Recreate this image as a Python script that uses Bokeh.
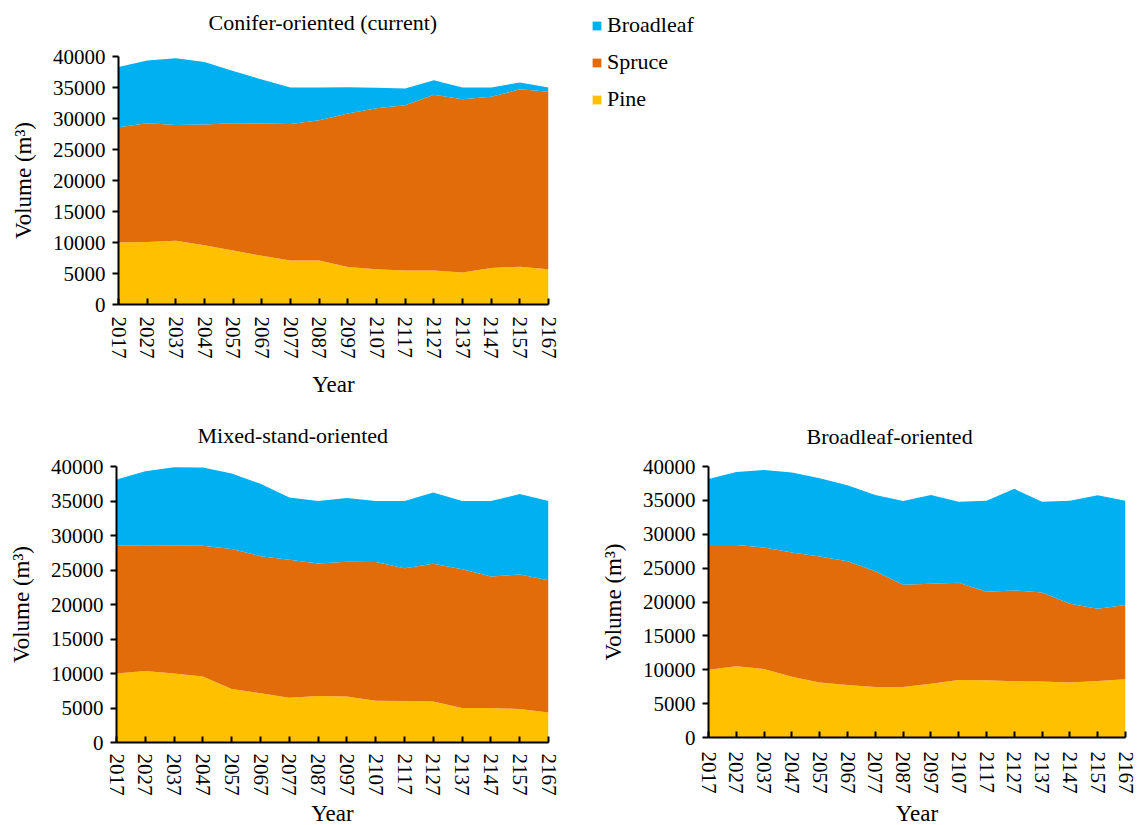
from bokeh.plotting import figure
from bokeh.models import (ColumnDataSource, Range1d, FixedTicker, NumeralTickFormatter,
                          Legend, LegendItem, LinearAxis)
from bokeh.layouts import column, row
from bokeh.embed import file_html
from bokeh.resources import INLINE

# Simulation years (every 10 years)
years = [2017, 2027, 2037, 2047, 2057, 2067, 2077, 2087, 2097, 2107, 2117, 2127, 2137, 2147, 2157, 2167]
y_ticks = [0, 5000, 10000, 15000, 20000, 25000, 30000, 35000, 40000]

# Standing volume (m3) by species, conifer-oriented (current) management
conifer_pine = [10000, 10100, 10300, 9550, 8700, 7850, 7100, 7100, 6050, 5700, 5500, 5500, 5150, 5900, 6100, 5700]
conifer_spruce = [18600, 19150, 18650, 19500, 20550, 21350, 22000, 22600, 24750, 25950, 26650, 28350, 27950, 27600, 28600, 28600]
conifer_broadleaf = [9700, 10100, 10750, 10050, 8400, 7100, 5900, 5300, 4250, 3300, 2700, 2300, 1900, 1500, 1100, 700]

# Mixed-stand-oriented management
mixed_pine = [10000, 10350, 10000, 9550, 7750, 7150, 6500, 6750, 6650, 6050, 6000, 5950, 5000, 5000, 4850, 4350]
mixed_spruce = [18500, 18250, 18550, 18950, 20300, 19850, 20000, 19200, 19550, 20100, 19250, 19950, 20100, 19050, 19500, 19150]
mixed_broadleaf = [9600, 10700, 11350, 11350, 10950, 10500, 9000, 9050, 9250, 8850, 9750, 10350, 9900, 10950, 11650, 11500]

# Broadleaf-oriented management
broad_pine = [10000, 10500, 10100, 8950, 8100, 7750, 7450, 7450, 7950, 8500, 8450, 8300, 8250, 8100, 8350, 8600]
broad_spruce = [18400, 17900, 17950, 18350, 18600, 18250, 17100, 15100, 14750, 14350, 13050, 13400, 13150, 11650, 10650, 10950]
broad_broadleaf = [9750, 10800, 11450, 11800, 11550, 11250, 11250, 12350, 13100, 11950, 13450, 15000, 13400, 15200, 16750, 15400]

species = ["Pine", "Spruce", "Broadleaf"]
colors = ["#FFC000", "#E26B0A", "#00B0F0"]

FONT = "Liberation Serif"


def stack_source(pine, spruce, broadleaf):
    return ColumnDataSource(dict(year=years, Pine=pine, Spruce=spruce, Broadleaf=broadleaf))


def panel(title, src, left, fw, top, fh, right, bottom,
          title_offset, title_gap, label_standoff, year_standoff):
    p = figure(frame_width=fw, frame_height=fh,
               min_border_left=left, min_border_top=top,
               min_border_right=right, min_border_bottom=bottom,
               x_range=Range1d(years[0], years[-1]), y_range=Range1d(0, 40000),
               output_backend="svg", toolbar_location=None, title=title)
    renderers = p.varea_stack(species, x="year", color=colors, source=src)

    xa = p.below[0]
    ya = p.left[0]

    # bare axis above the frame: only its (invisible) tick length is used,
    # as a gap between the frame and the title
    gap = LinearAxis(ticker=FixedTicker(ticks=[years[0]]), axis_line_color=None,
                     major_tick_line_color=None, minor_tick_line_color=None,
                     major_tick_in=0, major_tick_out=title_gap, major_label_standoff=0,
                     major_label_text_font_size="0px", major_label_overrides={years[0]: ""})
    p.add_layout(gap, "above")

    p.title.align = "left"
    p.title.offset = title_offset
    p.title.text_font = FONT
    p.title.text_font_size = "22px"
    p.title.text_font_style = "normal"
    p.title.text_color = "black"
    p.title.standoff = 14

    p.xgrid.visible = False
    p.ygrid.visible = False
    p.outline_line_color = None
    p.background_fill_color = "white"
    p.border_fill_color = "white"

    for ax in (xa, ya):
        ax.axis_line_color = "black"
        ax.axis_line_width = 2
        ax.major_tick_line_color = "black"
        ax.major_tick_line_width = 2
        ax.minor_tick_line_color = None
        ax.major_label_text_font = FONT
        ax.major_label_text_font_size = "21px"
        ax.major_label_text_color = "black"
        ax.axis_label_text_font = FONT
        ax.axis_label_text_font_size = "23px"
        ax.axis_label_text_font_style = "normal"
        ax.axis_label_text_color = "black"

    xa.ticker = FixedTicker(ticks=years)
    xa.major_label_orientation = "vertical"
    xa.major_tick_in = 6
    xa.major_tick_out = 0
    xa.major_label_standoff = label_standoff
    xa.axis_label = "Year"
    xa.axis_label_standoff = year_standoff

    ya.ticker = FixedTicker(ticks=y_ticks)
    ya.formatter = NumeralTickFormatter(format="0")
    ya.major_tick_out = 6
    ya.major_tick_in = 0
    ya.major_label_standoff = 7
    ya.axis_label = "Volume (m³)"
    ya.axis_label_standoff = 14
    return p, renderers


conifer_src = stack_source(conifer_pine, conifer_spruce, conifer_broadleaf)
mixed_src = stack_source(mixed_pine, mixed_spruce, mixed_broadleaf)
broad_src = stack_source(broad_pine, broad_spruce, broad_broadleaf)

p1, r1 = panel("Conifer-oriented (current)", conifer_src,
               118, 430, 55, 248, 170, 107, 90, 15, 12, 10)
p2, _ = panel("Mixed-stand-oriented", mixed_src,
              116, 432, 54, 276, 42, 83, 81, 12, 11, 2)
p3, _ = panel("Broadleaf-oriented", broad_src,
              118, 417, 55, 271, 12, 87, 98, 11, 14, 4)

# Species key to the right of the first panel (Broadleaf, Spruce, Pine from top)
items = [LegendItem(label=name, renderers=[r]) for name, r in zip(species, r1)][::-1]
legend = Legend(items=items, location=(43, 192), orientation="vertical",
                border_line_color=None, background_fill_alpha=0,
                label_text_font=FONT, label_text_font_size="22px", label_text_color="black",
                glyph_width=11, glyph_height=11, label_standoff=5, label_height=22,
                spacing=11, padding=0, margin=0)
p1.add_layout(legend, "right")

layout = column(row(p1), row(p2, p3))

with open("out.html", "w") as f:
    f.write(file_html(layout, INLINE))
